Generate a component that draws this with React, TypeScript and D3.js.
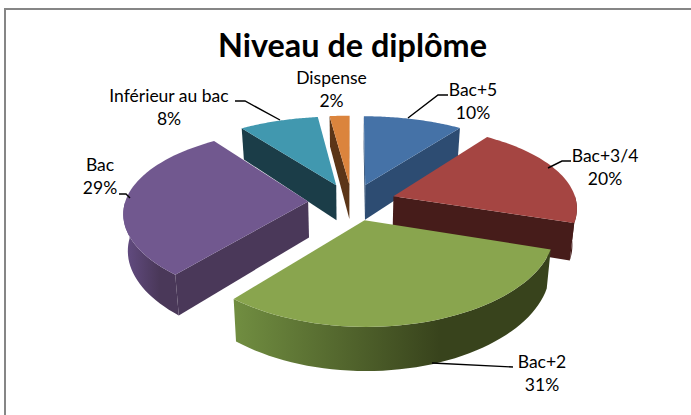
import React from 'react';
import * as d3 from 'd3';

// order matches the chart, clockwise from twelve o'clock
const categories = ['Bac+5', 'Bac+3/4', 'Bac+2', 'Bac', 'Inférieur au bac', 'Dispense'];
const percents = [10, 20, 31, 29, 8, 2];
const topColors = ['#4572a7', '#a54542', '#89a54e', '#71588f', '#4198af', '#db843d'];
const wallColors = ['#2d4c72', '#461c1a', '#38431c', '#4a3859', '#1b3d48', '#5b3517'];
const wallLightColors = ['#2d4c72', '#461c1a', '#718e41', '#644d84', '#1b3d48', '#5b3517'];
const title = 'Niveau de diplôme';

const width = 691;
const height = 415;
const cx = 352;
const cy = 202;
const scaleX = 183;
const scaleY = 84;
const perspectiveX = 0.12;
const perspectiveY = 0.153;
const explodeX = 0.24;
const explodeY = 0.22;
const depth = 36;
const font = 'Lato, sans-serif';

// back-to-front paint order
const paintOrder = [5, 4, 0, 3, 1, 2];

// label anchor + leader polyline for each slice (null = no leader)
const labelPos: [number, number][] = [[473, 96], [605, 162], [542, 368], [100, 171], [169, 102], [331.5, 84]];
const leaders: ([number, number][] | null)[] = [
  [[408, 118], [438, 95], [448, 95]],
  [[548, 168], [562, 161], [571, 161]],
  [[432, 363], [513, 367]],
  [[130, 198], [126, 194], [119, 194]],
  [[280, 120], [245, 101], [235, 101]],
  null,
];

const pie = d3.pie<number>().sort(null).startAngle(0).endAngle(2 * Math.PI);
const slices = pie(percents);

type Pt = [number, number];

function project(wx: number, wy: number): { p: Pt; s: number } {
  const sx = 1 / (1 + perspectiveX * wy);
  const s = 1 / (1 + perspectiveY * wy);
  return { p: [cx + scaleX * wx * sx, cy - scaleY * wy * s], s };
}

function lower(wx: number, wy: number): Pt {
  const { p, s } = project(wx, wy);
  return [cx + (p[0] - cx) * 0.98, p[1] + depth * s];
}

const line = d3.line<Pt>();

function sliceGeometry(i: number) {
  const { startAngle: a0, endAngle: a1 } = slices[i];
  const mid = (a0 + a1) / 2;
  const ox = explodeX * Math.sin(mid);
  const oy = explodeY * Math.cos(mid);
  const angles = d3.range(0, 49).map((k) => a0 + ((a1 - a0) * k) / 48);
  const rim = angles.map((a) => [ox + Math.sin(a), oy + Math.cos(a)] as Pt);
  const top = [[ox, oy] as Pt, ...rim].map(([x, y]) => project(x, y).p);
  const apexLow = lower(ox, oy);
  const rimLow = rim.map(([x, y]) => lower(x, y));
  const rimTop = rim.map(([x, y]) => project(x, y).p);
  const n = rim.length - 1;

  // radial faces are only seen when the edge runs left to right from outside
  const walls: Pt[][] = [];
  const apexTop = top[0];
  const facing = (a: Pt, b: Pt) => b[0] - a[0] > 0;
  if (facing(rimTop[0], apexTop)) walls.push([rimTop[0], apexTop, apexLow, rimLow[0]]);
  if (facing(apexTop, rimTop[n])) walls.push([apexTop, rimTop[n], rimLow[n], apexLow]);

  // the visible part of the outer rim is where it faces the viewer
  const vis = d3.range(0, n + 1).filter((k) => Math.cos(angles[k]) < 0.02);
  let outer: Pt[] | null = null;
  if (vis.length > 1) {
    const upper = vis.map((k) => rimTop[k]);
    const low = vis.map((k) => rimLow[k]).reverse();
    outer = [...upper, ...low];
  }
  return { top, walls, outer };
}

export default function App() {
  return (
    <svg
      width={width}
      height={height}
      style={{ position: 'absolute', left: 0, top: 0, background: '#fff' }}
    >
      <defs>
        {categories.map((_, i) => {
          const g = sliceGeometry(i);
          const xs = g.outer ? g.outer.map((d) => d[0]) : [0, 1];
          const [lo, hi] = d3.extent(xs) as [number, number];
          return (
            <linearGradient
              key={i}
              id={`rim${i}`}
              gradientUnits="userSpaceOnUse"
              x1={lo}
              x2={lo + (hi - lo) * 0.65}
              y1={0}
              y2={0}
            >
              <stop offset="0" stopColor={wallLightColors[i]} />
              <stop offset="1" stopColor={wallColors[i]} />
            </linearGradient>
          );
        })}
      </defs>

      <path d={`M${width},9H5V${height}`} fill="none" stroke="#868686" strokeWidth={2} />

      <text x={352.5} y={57} textAnchor="middle" fontFamily={font} fontWeight={700} fontSize={32.4} fill="#000">
        {title}
      </text>

      {paintOrder.map((i) => {
        const g = sliceGeometry(i);
        return (
          <g key={categories[i]}>
            {g.walls.map((w, k) => (
              <path key={k} d={line(w) + 'Z'} fill={wallColors[i]} />
            ))}
            {g.outer && <path d={line(g.outer) + 'Z'} fill={`url(#rim${i})`} />}
            <path d={line(g.top) + 'Z'} fill={topColors[i]} />
          </g>
        );
      })}

      {leaders.map((l, i) =>
        l ? <path key={i} d={line(l) as string} fill="none" stroke="#000" strokeWidth={1.4} /> : null,
      )}

      {categories.map((c, i) => (
        <text key={c} textAnchor="middle" fontFamily={font} fontSize={17.5} fill="#000">
          <tspan x={labelPos[i][0]} y={labelPos[i][1]}>{c}</tspan>
          <tspan x={labelPos[i][0]} y={labelPos[i][1] + 23}>{percents[i]}%</tspan>
        </text>
      ))}
    </svg>
  );
}
